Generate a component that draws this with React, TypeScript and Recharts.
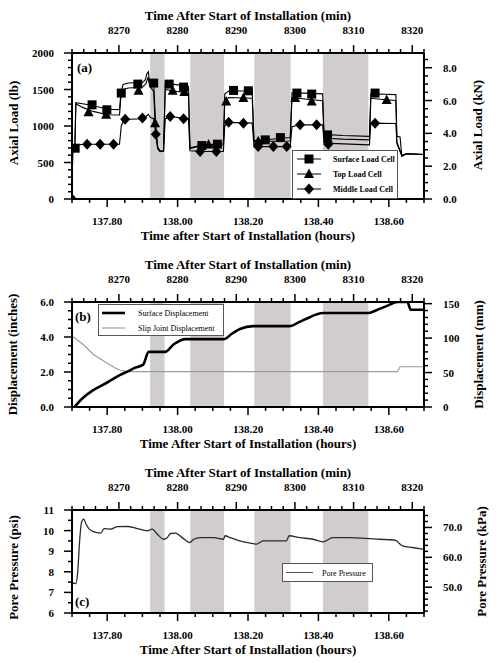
import React from 'react';
import { ComposedChart, Line, Scatter, XAxis, YAxis, ReferenceArea, Legend } from 'recharts';

const SERIF = '"Liberation Serif", "DejaVu Serif", serif';

// shared time window, hours (the top axis shows the same window in minutes)
const hourDomain: [number, number] = [137.7, 138.7];
const hourLabels = [137.8, 138.0, 138.2, 138.4, 138.6];
const minuteLabels = [8270, 8280, 8290, 8300, 8310, 8320];

// grey bands (hours)
const pauses: [number, number][] = [
  [137.922, 137.963],
  [138.036, 138.132],
  [138.218, 138.321],
  [138.413, 138.542],
];

// (a) axial load, lb
const surfaceLoad: [number, number][] = [
  [137.7, 0], [137.702, 690], [137.708, 695], [137.711, 1320], [137.73, 1305], [137.76, 1280], [137.8, 1230],
  [137.835, 1225], [137.839, 1450], [137.845, 1570], [137.86, 1590], [137.9, 1595], [137.908, 1630],
  [137.913, 1720], [137.917, 1745], [137.92, 1610], [137.932, 1590], [137.938, 1000], [137.943, 720],
  [137.95, 650], [137.96, 655], [137.965, 1590], [137.99, 1570], [138.031, 1540], [138.035, 700],
  [138.06, 730], [138.1, 748], [138.13, 755], [138.134, 1440], [138.145, 1480], [138.212, 1480],
  [138.217, 800], [138.25, 812], [138.32, 842], [138.325, 1455], [138.36, 1450], [138.412, 1440],
  [138.416, 885], [138.47, 870], [138.545, 858], [138.549, 1440], [138.59, 1435], [138.62, 1430],
  [138.623, 860], [138.632, 850], [138.637, 585], [138.65, 620], [138.7, 610],
];
const topLoad: [number, number][] = [
  [137.7, 0], [137.702, 690], [137.708, 695], [137.711, 1305], [137.73, 1255], [137.76, 1200], [137.8, 1155],
  [137.835, 1150], [137.839, 1400], [137.845, 1500], [137.86, 1520], [137.9, 1530], [137.91, 1580],
  [137.916, 1670], [137.92, 1560], [137.932, 1470], [137.936, 1040], [137.943, 700], [137.95, 660],
  [137.96, 665], [137.965, 1500], [137.99, 1480], [138.031, 1450], [138.035, 690], [138.07, 730],
  [138.13, 740], [138.134, 1330], [138.145, 1390], [138.212, 1380], [138.217, 790], [138.32, 795],
  [138.325, 1390], [138.36, 1370], [138.412, 1345], [138.416, 833], [138.47, 820], [138.545, 810],
  [138.549, 1380], [138.59, 1360], [138.62, 1350], [138.623, 780], [138.637, 600], [138.65, 620], [138.7, 610],
];
const middleLoad: [number, number][] = [
  [137.7, 0], [137.702, 690], [137.712, 745], [137.76, 751], [137.835, 752], [137.84, 1000], [137.848, 1090],
  [137.9, 1100], [137.91, 1130], [137.917, 1160], [137.922, 1120], [137.932, 1100], [137.938, 888],
  [137.944, 680], [137.95, 650], [137.96, 655], [137.965, 1100], [137.98, 1130], [138.031, 1098],
  [138.035, 660], [138.07, 650], [138.13, 652], [138.134, 1000], [138.145, 1050], [138.212, 1040],
  [138.217, 718], [138.32, 718], [138.325, 990], [138.348, 1016], [138.412, 1016], [138.416, 765],
  [138.545, 742], [138.549, 1039], [138.62, 1035], [138.623, 760], [138.637, 590], [138.65, 620], [138.7, 610],
];
const surfaceMarks: [number, number][] = [
  [137.709, 696], [137.757, 1290], [137.799, 1222], [137.84, 1451], [137.887, 1574], [137.932, 1588],
  [137.976, 1574], [138.017, 1533], [138.069, 732], [138.113, 751], [138.159, 1487], [138.201, 1482],
  [138.249, 810], [138.292, 841], [138.339, 1451], [138.381, 1437], [138.426, 878], [138.561, 1451],
];
const topMarks: [number, number][] = [
  [137.747, 1190], [137.797, 1153], [137.889, 1482], [137.936, 1039], [137.986, 1482], [138.019, 1465],
  [138.088, 745], [138.138, 1336], [138.187, 1382], [138.229, 790], [138.334, 1382], [138.381, 1336],
  [138.427, 830], [138.594, 1355],
];
const middleMarks: [number, number][] = [
  [137.7, 0], [137.743, 751], [137.78, 751], [137.818, 751], [137.851, 1094], [137.9, 1108], [137.938, 888],
  [137.979, 1130], [138.017, 1098], [138.064, 650], [138.11, 650], [138.145, 1053], [138.187, 1039],
  [138.229, 718], [138.272, 718], [138.31, 718], [138.348, 1016], [138.395, 1016], [138.428, 751], [138.561, 1039],
];

// (b) displacement, inches
const surfaceDisp: [number, number][] = [
  [137.707, 0], [137.73, 0.5], [137.761, 0.97], [137.8, 1.4], [137.837, 1.84], [137.86, 2.05], [137.88, 2.25],
  [137.902, 2.42], [137.918, 3.15], [137.964, 3.15], [137.99, 3.6], [138.022, 3.88], [138.132, 3.88],
  [138.155, 4.2], [138.177, 4.46], [138.215, 4.62], [138.319, 4.62], [138.345, 4.85], [138.366, 5.04],
  [138.413, 5.37], [138.542, 5.37], [138.568, 5.56], [138.592, 5.75], [138.625, 6.0], [138.653, 6.0],
  [138.662, 5.56], [138.7, 5.56],
];
const slipDisp: [number, number][] = [
  [137.7, 4.07], [137.73, 3.6], [137.761, 3.0], [137.8, 2.5], [137.823, 2.23], [137.837, 2.1], [137.85, 2.05],
  [137.86, 2.02], [138.625, 2.02], [138.632, 2.3], [138.7, 2.3],
];

// (c) pore pressure, psi
const porePressure: [number, number][] = [
  [137.7, 7.47], [137.711, 7.43], [137.716, 7.95], [137.722, 9.58], [137.727, 10.4], [137.733, 10.56],
  [137.74, 10.32], [137.749, 10.07], [137.768, 9.91], [137.782, 9.88], [137.791, 10.1], [137.81, 10.07],
  [137.829, 10.19], [137.857, 10.2], [137.885, 10.1], [137.914, 9.99], [137.928, 10.07], [137.942, 9.83],
  [137.961, 9.58], [137.97, 9.65], [137.98, 9.86], [137.994, 9.88], [138.013, 9.66], [138.034, 9.42],
  [138.046, 9.58], [138.064, 9.66], [138.102, 9.66], [138.13, 9.58], [138.135, 9.75], [138.149, 9.66],
  [138.177, 9.5], [138.215, 9.37], [138.224, 9.34], [138.243, 9.5], [138.281, 9.5], [138.309, 9.5],
  [138.317, 9.75], [138.347, 9.66], [138.385, 9.58], [138.413, 9.45], [138.441, 9.66], [138.488, 9.66],
  [138.535, 9.62], [138.573, 9.58], [138.62, 9.53], [138.629, 9.39], [138.639, 9.26], [138.667, 9.18],
  [138.7, 9.09],
];

const pts = (arr: [number, number][]) => arr.map(([t, v]) => ({ t, v }));

const steps = (from: number, to: number, step: number) => {
  const out: number[] = [];
  for (let v = from; v <= to + step / 1000; v += step) out.push(Math.round(v * 10000) / 10000);
  return out;
};

const hourTicks = steps(137.7, 138.7, 0.05);
// minute ticks every 2 min, expressed in hours so both axes share one scale
const minuteTicks = steps(8262, 8322, 2).map((m) => m / 60);
const minuteMajors = minuteLabels.map((m) => m / 60);

// layout
const CHART_W = 500;
const LEFT_W = 72;
const RIGHT_W = 76;
const TOP_AXIS = 50;
const BOTTOM_AXIS = 46;
const PLOT_MID = LEFT_W + (CHART_W - LEFT_W - RIGHT_W) / 2;
const frame = { stroke: '#000', strokeWidth: 2 };

type Side = 'top' | 'bottom' | 'left' | 'right';

const makeTick = (side: Side, labels: number[], fmt: (v: number) => string) => (props: any) => {
  const { x, y, payload } = props;
  const v = payload.value;
  const major = labels.some((l) => Math.abs(l - v) < 1e-6);
  const len = major ? 8 : 4;
  const dx = side === 'left' ? -1 : side === 'right' ? 1 : 0;
  const dy = side === 'top' ? -1 : side === 'bottom' ? 1 : 0;
  let tx = x;
  let ty = y;
  let anchor: 'start' | 'middle' | 'end' = 'middle';
  if (side === 'top') ty = y - 19;
  if (side === 'bottom') ty = y + 26;
  if (side === 'left') { tx = x - 18; ty = y + 4; anchor = 'end'; }
  if (side === 'right') { tx = x + 19; ty = y + 4; anchor = 'start'; }
  return (
    <g>
      <line x1={x} y1={y} x2={x + dx * len} y2={y + dy * len} stroke="#000" strokeWidth={1.5} />
      {major && (
        <text x={tx} y={ty} textAnchor={anchor} fontFamily={SERIF} fontWeight="bold" fontSize={11} fill="#000">
          {fmt(v)}
        </text>
      )}
    </g>
  );
};

const hTitle = (text: string, y: number) => () => (
  <text x={PLOT_MID} y={y} textAnchor="middle" fontFamily={SERIF} fontWeight="bold" fontSize={13} fill="#000">
    {text}
  </text>
);

const vTitle = (text: string, x: number, y: number, tag?: { text: string; x: number; y: number }) => () => (
  <g>
    <text
      x={x}
      y={y}
      dy="0.35em"
      transform={`rotate(-90, ${x}, ${y})`}
      textAnchor="middle"
      fontFamily={SERIF}
      fontWeight="bold"
      fontSize={13}
      fill="#000"
    >
      {text}
    </text>
    {tag && (
      <text x={tag.x} y={tag.y} fontFamily={SERIF} fontWeight="bold" fontSize={13} fill="#000">
        {tag.text}
      </text>
    )}
  </g>
);

const timeAxes = (plotH: number, hoursTitle: string) => [
  <XAxis
    key="hours"
    xAxisId="h"
    type="number"
    dataKey="t"
    domain={hourDomain}
    allowDataOverflow
    ticks={hourTicks}
    interval={0}
    tickSize={0}
    tickMargin={0}
    tickLine={false}
    height={BOTTOM_AXIS}
    axisLine={frame}
    tick={makeTick('bottom', hourLabels, (v) => v.toFixed(2))}
    label={{ content: hTitle(hoursTitle, TOP_AXIS + plotH + 40.5) }}
  />,
  <XAxis
    key="minutes"
    xAxisId="m"
    orientation="top"
    type="number"
    dataKey="t"
    domain={hourDomain}
    allowDataOverflow
    ticks={minuteTicks}
    interval={0}
    tickSize={0}
    tickMargin={0}
    tickLine={false}
    height={TOP_AXIS}
    axisLine={frame}
    tick={makeTick('top', minuteMajors, (v) => String(Math.round(v * 60)))}
    label={{ content: hTitle('Time After Start of Installation (min)', 16.5) }}
  />,
];

const bands = (yAxisId: string) =>
  pauses.map(([a, b], i) => (
    <ReferenceArea key={`band-${i}`} xAxisId="h" yAxisId={yAxisId} x1={a} x2={b} fill="#d2cdcd" fillOpacity={1} stroke="none" />
  ));

type LegendItem = { label: string; stroke: string; width: number; marker?: 'square' | 'triangle' | 'diamond' };

const marker = (kind: string | undefined, cx: number, cy: number) => {
  if (kind === 'square') return <rect x={cx - 4.5} y={cy - 4.5} width={9} height={9} fill="#000" />;
  if (kind === 'triangle')
    return <polygon points={`${cx},${cy - 5.5} ${cx + 5},${cy + 4} ${cx - 5},${cy + 4}`} fill="#000" />;
  if (kind === 'diamond')
    return <polygon points={`${cx},${cy - 5.5} ${cx + 5},${cy} ${cx},${cy + 5.5} ${cx - 5},${cy}`} fill="#000" />;
  return null;
};

const legendBox = (w: number, h: number, items: LegendItem[], rows: number[], sample: [number, number], textX: number, bold: boolean) => () => (
  <svg width={w} height={h} style={{ display: 'block' }}>
    <rect x={0.5} y={0.5} width={w - 1} height={h - 1} fill="#fff" stroke="#555" strokeWidth={1} />
    {items.map((it, i) => (
      <g key={it.label}>
        <line x1={sample[0]} x2={sample[1]} y1={rows[i]} y2={rows[i]} stroke={it.stroke} strokeWidth={it.width} />
        {marker(it.marker, (sample[0] + sample[1]) / 2, rows[i])}
        <text x={textX} y={rows[i] + 3} fontFamily={SERIF} fontWeight={bold ? 'bold' : 'normal'} fontSize={8} fill="#000">
          {it.label}
        </text>
      </g>
    ))}
  </svg>
);

const squareShape = (p: any) => marker('square', p.cx, p.cy) as any;
const triangleShape = (p: any) => marker('triangle', p.cx, p.cy) as any;
const diamondShape = (p: any) => marker('diamond', p.cx, p.cy) as any;

const margin = { top: 0, right: 0, bottom: 0, left: 0 };

function PanelA() {
  const plotTop = 53;
  const plotH = 146;
  const chartTop = plotTop - TOP_AXIS;
  const h = TOP_AXIS + plotH + BOTTOM_AXIS;
  const mid = TOP_AXIS + plotH / 2;
  return (
    <div style={{ position: 'absolute', left: 0, top: chartTop }}>
      <ComposedChart width={CHART_W} height={h} margin={margin}>
        {timeAxes(plotH, 'Time after Start of Installation (hours)')}
        <YAxis
          yAxisId="l"
          type="number"
          dataKey="v"
          domain={[0, 2000]}
          allowDataOverflow
          ticks={steps(0, 2000, 100)}
          interval={0}
          tickSize={0}
          tickMargin={0}
          tickLine={false}
          width={LEFT_W}
          axisLine={frame}
          tick={makeTick('left', [0, 500, 1000, 1500, 2000], (v) => String(v))}
          label={{ content: vTitle('Axial Load (lb)', 13, mid - 3, { text: '(a)', x: 77, y: TOP_AXIS + 19 }) }}
        />
        <YAxis
          yAxisId="r"
          orientation="right"
          type="number"
          domain={[0, 8.8964]}
          allowDataOverflow
          ticks={steps(0, 8.5, 0.5)}
          interval={0}
          tickSize={0}
          tickMargin={0}
          tickLine={false}
          width={RIGHT_W}
          axisLine={frame}
          tick={makeTick('right', [0, 2, 4, 6, 8], (v) => v.toFixed(1))}
          label={{ content: vTitle('Axial Load (kN)', 477.5, mid - 1) }}
        />
        {bands('l')}
        <Line data={pts(surfaceLoad)} xAxisId="m" yAxisId="l" dataKey="v" type="linear" dot={false} stroke="#000" strokeWidth={1.1} isAnimationActive={false} />
        <Line data={pts(topLoad)} xAxisId="h" yAxisId="l" dataKey="v" type="linear" dot={false} stroke="#000" strokeWidth={1.1} isAnimationActive={false} />
        <Line data={pts(middleLoad)} xAxisId="h" yAxisId="l" dataKey="v" type="linear" dot={false} stroke="#000" strokeWidth={1.1} isAnimationActive={false} />
        <Scatter data={pts(surfaceMarks)} xAxisId="h" yAxisId="l" dataKey="v" shape={squareShape} isAnimationActive={false} />
        <Scatter data={pts(topMarks)} xAxisId="h" yAxisId="l" dataKey="v" shape={triangleShape} isAnimationActive={false} />
        <Scatter data={pts(middleMarks)} xAxisId="h" yAxisId="l" dataKey="v" shape={diamondShape} isAnimationActive={false} />
        <Legend
          layout="horizontal"
          verticalAlign="middle"
          align="center"
          wrapperStyle={{ left: 292, top: 147, width: 106, height: 49 }}
          content={legendBox(
            106,
            49,
            [
              { label: 'Surface Load Cell', stroke: '#000', width: 1, marker: 'square' },
              { label: 'Top Load Cell', stroke: '#000', width: 1, marker: 'triangle' },
              { label: 'Middle Load Cell', stroke: '#000', width: 1, marker: 'diamond' },
            ],
            [9, 24, 39],
            [5, 29],
            41,
            true
          )}
        />
      </ComposedChart>
    </div>
  );
}

function PanelB() {
  const plotTop = 302;
  const plotH = 105;
  const chartTop = plotTop - TOP_AXIS;
  const h = TOP_AXIS + plotH + BOTTOM_AXIS;
  const mid = TOP_AXIS + plotH / 2;
  return (
    <div style={{ position: 'absolute', left: 0, top: chartTop }}>
      <ComposedChart width={CHART_W} height={h} margin={margin}>
        {timeAxes(plotH, 'Time After Start of Installation (hours)')}
        <YAxis
          yAxisId="l"
          type="number"
          dataKey="v"
          domain={[0, 6]}
          allowDataOverflow
          ticks={steps(0, 6, 0.5)}
          interval={0}
          tickSize={0}
          tickMargin={0}
          tickLine={false}
          width={LEFT_W}
          axisLine={frame}
          tick={makeTick('left', [0, 2, 4, 6], (v) => v.toFixed(1))}
          label={{ content: vTitle('Displacement (inches)', 12, mid, { text: '(b)', x: 75, y: TOP_AXIS + 19 }) }}
        />
        <YAxis
          yAxisId="r"
          orientation="right"
          type="number"
          domain={[0, 152.4]}
          allowDataOverflow
          ticks={steps(0, 150, 10)}
          interval={0}
          tickSize={0}
          tickMargin={0}
          tickLine={false}
          width={RIGHT_W}
          axisLine={frame}
          tick={makeTick('right', [0, 50, 100, 150], (v) => String(v))}
          label={{ content: vTitle('Displacement (mm)', 478, mid) }}
        />
        {bands('l')}
        <Line data={pts(slipDisp)} xAxisId="h" yAxisId="l" dataKey="v" type="linear" dot={false} stroke="#9a9a9a" strokeWidth={1.1} isAnimationActive={false} />
        <Line data={pts(surfaceDisp)} xAxisId="m" yAxisId="l" dataKey="v" type="monotone" dot={false} stroke="#000" strokeWidth={2.6} isAnimationActive={false} />
        <Legend
          layout="horizontal"
          verticalAlign="middle"
          align="center"
          wrapperStyle={{ left: 98, top: 52, width: 126, height: 32 }}
          content={legendBox(
            126,
            32,
            [
              { label: 'Surface Displacement', stroke: '#000', width: 2.6 },
              { label: 'Slip Joint Displacement', stroke: '#9a9a9a', width: 1.1 },
            ],
            [9, 24],
            [4, 27],
            40,
            false
          )}
        />
      </ComposedChart>
    </div>
  );
}

function PanelC() {
  const plotTop = 510;
  const plotH = 103;
  const chartTop = plotTop - TOP_AXIS;
  const h = TOP_AXIS + plotH + BOTTOM_AXIS;
  const mid = TOP_AXIS + plotH / 2;
  return (
    <div style={{ position: 'absolute', left: 0, top: chartTop }}>
      <ComposedChart width={CHART_W} height={h} margin={margin}>
        {timeAxes(plotH, 'Time After Start of Installation (hours)')}
        <YAxis
          yAxisId="l"
          type="number"
          dataKey="v"
          domain={[6, 11]}
          allowDataOverflow
          ticks={steps(6, 11, 0.5)}
          interval={0}
          tickSize={0}
          tickMargin={0}
          tickLine={false}
          width={LEFT_W}
          axisLine={frame}
          tick={makeTick('left', [6, 7, 8, 9, 10, 11], (v) => String(v))}
          label={{ content: vTitle('Pore Pressure (psi)', 13, mid + 6, { text: '(c)', x: 75, y: TOP_AXIS + plotH - 7 }) }}
        />
        <YAxis
          yAxisId="r"
          orientation="right"
          type="number"
          domain={[41.369, 75.842]}
          allowDataOverflow
          ticks={steps(42, 74, 2)}
          interval={0}
          tickSize={0}
          tickMargin={0}
          tickLine={false}
          width={RIGHT_W}
          axisLine={frame}
          tick={makeTick('right', [50, 60, 70], (v) => v.toFixed(1))}
          label={{ content: vTitle('Pore Pressure (kPa)', 481.5, mid) }}
        />
        {bands('l')}
        <Line data={pts(porePressure)} xAxisId="m" yAxisId="l" dataKey="v" type="monotone" dot={false} stroke="#2a2a2a" strokeWidth={1.3} isAnimationActive={false} />
        <Legend
          layout="horizontal"
          verticalAlign="middle"
          align="center"
          wrapperStyle={{ left: 282, top: 103, width: 91, height: 19 }}
          content={legendBox(91, 19, [{ label: 'Pore Pressure', stroke: '#555', width: 1 }], [9.5], [4, 31], 40, false)}
        />
      </ComposedChart>
    </div>
  );
}

export default function App() {
  return (
    <div style={{ position: 'absolute', left: 0, top: 0, width: 500, height: 663, background: '#fff', overflow: 'hidden' }}>
      <PanelA />
      <PanelB />
      <PanelC />
    </div>
  );
}
